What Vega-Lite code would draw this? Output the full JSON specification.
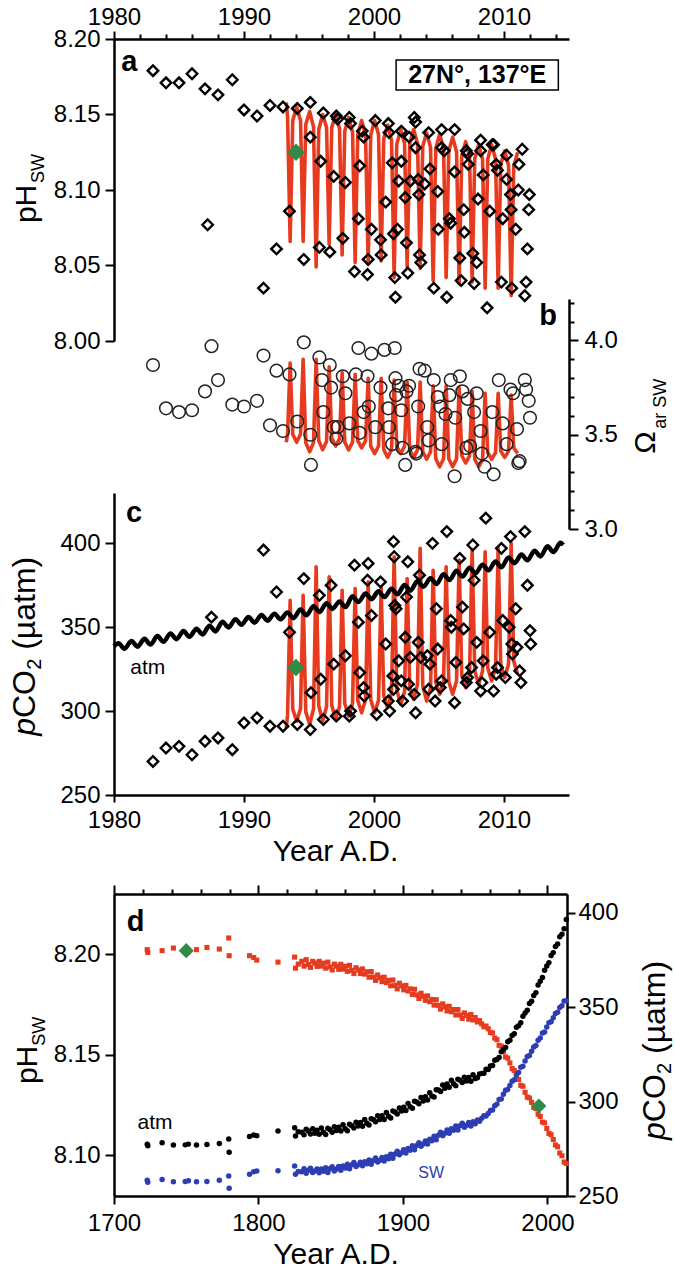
{
"$schema": "https://vega.github.io/schema/vega-lite/v6.json",
"padding": {"left": 9, "top": 5, "right": 0, "bottom": 0},
"spacing": 18,
"config": {
  "view": {"stroke": null},
  "font": "Liberation Sans",
  "axis": {"domainColor": "black", "domainWidth": 2.5, "tickColor": "black", "tickWidth": 2, "labelColor": "black", "labelFontSize": 24, "labelFont": "Liberation Sans", "labelFlush": false, "labelOverlap": false, "grid": false, "titleColor": "black", "titleFontWeight": "normal", "titleFontSize": 30, "titleFont": "Liberation Sans"}
},
"datasets": {
"sea": [
{"t":1993.25,"ph":8.158,"om":3.46,"pc":290},
{"t":1993.35,"ph":8.1488,"om":3.502,"pc":297.6},{"t":1993.55,"ph":8.066,"om":3.88,"pc":366},{"t":1993.75,"ph":8.1461,"om":3.502,"pc":301.2},{"t":1994.05,"ph":8.155,"om":3.46,"pc":294},
{"t":1994.35,"ph":8.1461,"om":3.504,"pc":301.5},{"t":1994.55,"ph":8.066,"om":3.90,"pc":369},{"t":1994.75,"ph":8.1434,"om":3.459,"pc":299.7},{"t":1995.05,"ph":8.152,"om":3.41,"pc":292},
{"t":1995.35,"ph":8.1417,"om":3.459,"pc":301.4},{"t":1995.55,"ph":8.049,"om":3.90,"pc":386},{"t":1995.75,"ph":8.1399,"om":3.468,"pc":303.2},{"t":1996.05,"ph":8.150,"om":3.42,"pc":294},
{"t":1996.35,"ph":8.1414,"om":3.464,"pc":302.6},{"t":1996.55,"ph":8.064,"om":3.86,"pc":380},{"t":1996.75,"ph":8.1414,"om":3.482,"pc":303.5},{"t":1997.05,"ph":8.150,"om":3.44,"pc":295},
{"t":1997.35,"ph":8.1407,"om":3.479,"pc":302.7},{"t":1997.55,"ph":8.057,"om":3.83,"pc":372},{"t":1997.75,"ph":8.1389,"om":3.461,"pc":304.5},{"t":1998.05,"ph":8.148,"om":3.42,"pc":297},
{"t":1998.35,"ph":8.1384,"om":3.46,"pc":304.6},{"t":1998.55,"ph":8.052,"om":3.82,"pc":373},{"t":1998.75,"ph":8.1366,"om":3.469,"pc":306.4},{"t":1999.05,"ph":8.146,"om":3.43,"pc":299},
{"t":1999.35,"ph":8.1365,"om":3.467,"pc":306.8},{"t":1999.55,"ph":8.051,"om":3.80,"pc":377},{"t":1999.75,"ph":8.1365,"om":3.44,"pc":306.8},{"t":2000.05,"ph":8.146,"om":3.40,"pc":299},
{"t":2000.35,"ph":8.1367,"om":3.44,"pc":306.5},{"t":2000.55,"ph":8.053,"om":3.80,"pc":374},{"t":2000.75,"ph":8.134,"om":3.422,"pc":309.2},{"t":2001.05,"ph":8.143,"om":3.38,"pc":302},
{"t":2001.35,"ph":8.1329,"om":3.421,"pc":311},{"t":2001.55,"ph":8.042,"om":3.79,"pc":392},{"t":2001.75,"ph":8.1302,"om":3.439,"pc":312.8},{"t":2002.05,"ph":8.140,"om":3.40,"pc":304},
{"t":2002.35,"ph":8.1309,"om":3.438,"pc":311.5},{"t":2002.55,"ph":8.049,"om":3.78,"pc":379},{"t":2002.75,"ph":8.1309,"om":3.42,"pc":314.2},{"t":2003.05,"ph":8.140,"om":3.38,"pc":307},
{"t":2003.35,"ph":8.1308,"om":3.42,"pc":316},{"t":2003.55,"ph":8.048,"om":3.78,"pc":397},{"t":2003.75,"ph":8.129,"om":3.411,"pc":315.1},{"t":2004.05,"ph":8.138,"om":3.37,"pc":306},
{"t":2004.35,"ph":8.1282,"om":3.409,"pc":313.8},{"t":2004.55,"ph":8.040,"om":3.76,"pc":384},{"t":2004.75,"ph":8.1273,"om":3.373,"pc":317.4},{"t":2005.05,"ph":8.137,"om":3.33,"pc":310},
{"t":2005.35,"ph":8.1275,"om":3.373,"pc":317.6},{"t":2005.55,"ph":8.042,"om":3.76,"pc":386},{"t":2005.75,"ph":8.1257,"om":3.373,"pc":317.6},{"t":2006.05,"ph":8.135,"om":3.33,"pc":310},
{"t":2006.35,"ph":8.1253,"om":3.372,"pc":318},{"t":2006.55,"ph":8.038,"om":3.75,"pc":390},{"t":2006.75,"ph":8.1226,"om":3.39,"pc":321.6},{"t":2007.05,"ph":8.132,"om":3.35,"pc":314},
{"t":2007.35,"ph":8.1227,"om":3.388,"pc":322.2},{"t":2007.55,"ph":8.039,"om":3.73,"pc":396},{"t":2007.75,"ph":8.1209,"om":3.37,"pc":324},{"t":2008.05,"ph":8.130,"om":3.33,"pc":316},
{"t":2008.35,"ph":8.1205,"om":3.369,"pc":323.9},{"t":2008.55,"ph":8.035,"om":3.72,"pc":395},{"t":2008.75,"ph":8.1205,"om":3.405,"pc":325.7},{"t":2009.05,"ph":8.130,"om":3.37,"pc":318},
{"t":2009.35,"ph":8.1205,"om":3.405,"pc":325.9},{"t":2009.55,"ph":8.035,"om":3.72,"pc":397},{"t":2009.75,"ph":8.1169,"om":3.414,"pc":327.7},{"t":2010.05,"ph":8.126,"om":3.38,"pc":320},
{"t":2010.35,"ph":8.1164,"om":3.413,"pc":328},{"t":2010.55,"ph":8.030,"om":3.71,"pc":400},{"t":2010.75,"ph":8.1155,"om":3.431,"pc":329.8},{"t":2011.05,"ph":8.125,"om":3.40,"pc":322}
],
"atm": [
{"t":1980.0,"v":338.6},
{"t":1980.35,"v":340.5},{"t":1980.8,"v":337.1},{"t":1981.35,"v":341.8},{"t":1981.8,"v":338.4},
{"t":1982.35,"v":343.1},{"t":1982.8,"v":339.7},{"t":1983.35,"v":344.7},{"t":1983.8,"v":341.3},
{"t":1984.35,"v":346.3},{"t":1984.8,"v":342.9},{"t":1985.35,"v":347.7},{"t":1985.8,"v":344.3},
{"t":1986.35,"v":349.1},{"t":1986.8,"v":345.7},{"t":1987.35,"v":350.9},{"t":1987.8,"v":347.5},
{"t":1988.35,"v":353.3},{"t":1988.8,"v":349.9},{"t":1989.35,"v":354.8},{"t":1989.8,"v":351.4},
{"t":1990.35,"v":356.1},{"t":1990.8,"v":352.7},{"t":1991.35,"v":357.3},{"t":1991.8,"v":353.9},
{"t":1992.35,"v":358.1},{"t":1992.8,"v":354.7},{"t":1993.35,"v":358.8},{"t":1993.8,"v":355.4},
{"t":1994.35,"v":360.5},{"t":1994.8,"v":357.1},{"t":1995.35,"v":362.5},{"t":1995.8,"v":359.1},
{"t":1996.35,"v":364.3},{"t":1996.8,"v":360.9},{"t":1997.35,"v":365.4},{"t":1997.8,"v":362.0},
{"t":1998.35,"v":368.4},{"t":1998.8,"v":365.0},{"t":1999.35,"v":370.1},{"t":1999.8,"v":366.7},
{"t":2000.35,"v":371.4},{"t":2000.8,"v":368.0},{"t":2001.35,"v":373.0},{"t":2001.8,"v":369.6},
{"t":2002.35,"v":375.2},{"t":2002.8,"v":371.8},{"t":2003.35,"v":377.5},{"t":2003.8,"v":374.1},
{"t":2004.35,"v":379.2},{"t":2004.8,"v":375.8},{"t":2005.35,"v":381.5},{"t":2005.8,"v":378.1},
{"t":2006.35,"v":383.6},{"t":2006.8,"v":380.2},{"t":2007.35,"v":385.5},{"t":2007.8,"v":382.1},
{"t":2008.35,"v":387.3},{"t":2008.8,"v":383.9},{"t":2009.35,"v":389.1},{"t":2009.8,"v":385.7},
{"t":2010.35,"v":391.6},{"t":2010.8,"v":388.2},{"t":2011.35,"v":393.3},{"t":2011.8,"v":389.9},
{"t":2012.35,"v":395.6},{"t":2012.8,"v":392.2},{"t":2013.35,"v":398.2},{"t":2013.8,"v":394.8},
{"t":2014.35,"v":400.3},{"t":2014.55,"v":399.0}
],
"pha": [
{"t":1983.0,"v":8.179},{"t":1984.0,"v":8.171},{"t":1985.0,"v":8.171},{"t":1986.0,"v":8.177},{"t":1987.0,"v":8.167},
{"t":1988.0,"v":8.163},{"t":1989.1,"v":8.173},{"t":1990.0,"v":8.153},{"t":1991.0,"v":8.149},{"t":1992.0,"v":8.156},
{"t":1993.0,"v":8.155},{"t":1994.1,"v":8.154},{"t":1995.1,"v":8.158},{"t":1996.1,"v":8.151},{"t":1997.1,"v":8.149},
{"t":1997.2,"v":8.147},{"t":1998.1,"v":8.148},{"t":1998.2,"v":8.144},{"t":1999.1,"v":8.139},{"t":1999.2,"v":8.135},
{"t":2000.1,"v":8.146},{"t":2001.1,"v":8.144},{"t":2001.15,"v":8.138},{"t":2002.1,"v":8.139},{"t":2003.1,"v":8.148},
{"t":2003.2,"v":8.145},{"t":2004.2,"v":8.138},{"t":2005.2,"v":8.140},{"t":2006.2,"v":8.140},{"t":2007.1,"v":8.126},
{"t":2008.2,"v":8.133},{"t":2009.2,"v":8.130},{"t":2010.2,"v":8.123},{"t":2011.4,"v":8.127},
{"t":1987.2,"v":8.077},{"t":1991.5,"v":8.035},{"t":1992.5,"v":8.061},{"t":1993.5,"v":8.086},{"t":1994.6,"v":8.054},
{"t":1995.1,"v":8.135},{"t":1995.9,"v":8.119},{"t":1995.8,"v":8.062},{"t":1996.6,"v":8.059},{"t":1996.9,"v":8.109},
{"t":1997.6,"v":8.068},{"t":1997.8,"v":8.105},{"t":1998.5,"v":8.046},{"t":1998.9,"v":8.116},{"t":1998.8,"v":8.081},
{"t":1999.5,"v":8.044},{"t":1999.55,"v":8.054},{"t":1999.8,"v":8.074},{"t":2000.5,"v":8.067},{"t":2000.55,"v":8.057},
{"t":2000.9,"v":8.092},{"t":2001.4,"v":8.118},{"t":2001.5,"v":8.071},{"t":2001.6,"v":8.042},{"t":2001.65,"v":8.029},
{"t":2001.8,"v":8.074},{"t":2001.9,"v":8.106},{"t":2002.1,"v":8.119},{"t":2002.4,"v":8.095},{"t":2002.5,"v":8.065},
{"t":2002.6,"v":8.045},{"t":2002.7,"v":8.135},{"t":2002.8,"v":8.106},{"t":2003.2,"v":8.128},{"t":2003.4,"v":8.107},
{"t":2003.45,"v":8.097},{"t":2003.5,"v":8.057},{"t":2003.6,"v":8.052},{"t":2003.9,"v":8.104},{"t":2004.3,"v":8.114},
{"t":2004.6,"v":8.035},{"t":2004.9,"v":8.099},{"t":2004.95,"v":8.074},{"t":2005.2,"v":8.128},{"t":2005.4,"v":8.126},
{"t":2005.6,"v":8.029},{"t":2005.8,"v":8.081},{"t":2005.9,"v":8.078},{"t":2006.2,"v":8.112},{"t":2006.6,"v":8.055},
{"t":2006.7,"v":8.040},{"t":2006.9,"v":8.087},{"t":2006.95,"v":8.072},{"t":2007.2,"v":8.124},{"t":2007.25,"v":8.117},
{"t":2007.6,"v":8.058},{"t":2007.7,"v":8.038},{"t":2007.9,"v":8.052},{"t":2008.0,"v":8.094},{"t":2008.2,"v":8.126},
{"t":2008.4,"v":8.110},{"t":2008.7,"v":8.022},{"t":2008.9,"v":8.086},{"t":2009.1,"v":8.130},{"t":2009.4,"v":8.117},
{"t":2009.5,"v":8.113},{"t":2009.8,"v":8.039},{"t":2009.9,"v":8.081},{"t":2010.2,"v":8.107},{"t":2010.5,"v":8.097},
{"t":2010.55,"v":8.087},{"t":2010.6,"v":8.035},{"t":2010.9,"v":8.074},{"t":2011.1,"v":8.100},{"t":2011.15,"v":8.117},
{"t":2011.6,"v":8.030},{"t":2011.7,"v":8.039},{"t":2011.8,"v":8.061},{"t":2011.9,"v":8.087},{"t":2011.95,"v":8.097}
],
"omb": [
{"t":1983.0,"v":3.87},{"t":1984.0,"v":3.64},{"t":1985.0,"v":3.62},{"t":1986.0,"v":3.63},{"t":1987.0,"v":3.73},
{"t":1987.5,"v":3.97},{"t":1988.0,"v":3.79},{"t":1989.1,"v":3.66},{"t":1990.0,"v":3.65},{"t":1991.0,"v":3.68},
{"t":1991.5,"v":3.92},{"t":1992.0,"v":3.55},{"t":1992.5,"v":3.84},{"t":1993.0,"v":3.52},{"t":1993.5,"v":3.82},
{"t":1994.1,"v":3.57},{"t":1994.6,"v":3.99},{"t":1995.1,"v":3.50},{"t":1995.15,"v":3.34},{"t":1995.8,"v":3.91},
{"t":1996.1,"v":3.62},{"t":1996.0,"v":3.79},{"t":1996.6,"v":3.87},{"t":1996.7,"v":3.75},{"t":1996.9,"v":3.54},
{"t":1997.1,"v":3.48},{"t":1997.2,"v":3.54},{"t":1997.6,"v":3.81},{"t":1997.8,"v":3.72},{"t":1998.1,"v":3.56},
{"t":1998.6,"v":3.82},{"t":1998.8,"v":3.96},{"t":1998.9,"v":3.51},{"t":1999.2,"v":3.62},{"t":1999.5,"v":3.81},
{"t":1999.6,"v":3.65},{"t":1999.8,"v":3.93},{"t":2000.1,"v":3.54},{"t":2000.5,"v":3.75},{"t":2000.8,"v":3.95},
{"t":2001.1,"v":3.64},{"t":2001.15,"v":3.54},{"t":2001.4,"v":3.45},{"t":2001.6,"v":3.96},{"t":2001.65,"v":3.80},
{"t":2001.7,"v":3.71},{"t":2001.9,"v":3.76},{"t":2002.1,"v":3.63},{"t":2002.2,"v":3.43},{"t":2002.4,"v":3.34},
{"t":2002.5,"v":3.73},{"t":2002.7,"v":3.76},{"t":2003.2,"v":3.41},{"t":2003.25,"v":3.40},{"t":2003.4,"v":3.65},
{"t":2003.5,"v":3.85},{"t":2003.9,"v":3.84},{"t":2004.1,"v":3.54},{"t":2004.2,"v":3.47},{"t":2004.6,"v":3.79},
{"t":2004.9,"v":3.70},{"t":2005.1,"v":3.65},{"t":2005.2,"v":3.45},{"t":2005.5,"v":3.61},{"t":2005.8,"v":3.71},
{"t":2005.9,"v":3.79},{"t":2006.2,"v":3.28},{"t":2006.25,"v":3.59},{"t":2006.6,"v":3.81},{"t":2006.8,"v":3.73},
{"t":2007.1,"v":3.43},{"t":2007.2,"v":3.69},{"t":2007.4,"v":3.44},{"t":2007.7,"v":3.62},{"t":2007.9,"v":3.72},
{"t":2008.2,"v":3.52},{"t":2008.3,"v":3.40},{"t":2008.5,"v":3.33},{"t":2009.1,"v":3.62},{"t":2009.2,"v":3.29},
{"t":2009.6,"v":3.79},{"t":2009.9,"v":3.56},{"t":2010.2,"v":3.45},{"t":2010.5,"v":3.74},{"t":2010.7,"v":3.72},
{"t":2011.0,"v":3.53},{"t":2011.1,"v":3.35},{"t":2011.2,"v":3.36},{"t":2011.6,"v":3.79},{"t":2011.7,"v":3.74},
{"t":2011.9,"v":3.68},{"t":2012.0,"v":3.59}
],
"pcc": [
{"t":1983.0,"v":270},{"t":1984.0,"v":278},{"t":1985.0,"v":279},{"t":1986.0,"v":274},{"t":1987.0,"v":282},
{"t":1987.5,"v":356},{"t":1988.0,"v":284},{"t":1989.1,"v":277},{"t":1990.0,"v":293},{"t":1991.0,"v":296},
{"t":1991.5,"v":396},{"t":1992.0,"v":291},{"t":1992.5,"v":371},{"t":1993.0,"v":291},{"t":1993.5,"v":347},
{"t":1994.1,"v":292},{"t":1994.6,"v":379},{"t":1995.1,"v":289},{"t":1995.15,"v":311},{"t":1995.8,"v":369},
{"t":1995.9,"v":319},{"t":1996.1,"v":295},{"t":1996.7,"v":375},{"t":1996.9,"v":328},{"t":1997.1,"v":297},
{"t":1997.8,"v":333},{"t":1998.1,"v":297},{"t":1998.2,"v":300},{"t":1998.5,"v":387},{"t":1998.8,"v":353},
{"t":1998.9,"v":323},{"t":1999.2,"v":314},{"t":1999.25,"v":309},{"t":1999.5,"v":378},{"t":1999.55,"v":388},
{"t":1999.8,"v":357},{"t":2000.2,"v":298},{"t":2000.5,"v":377},{"t":2000.9,"v":340},{"t":2001.1,"v":306},
{"t":2001.2,"v":300},{"t":2001.5,"v":401},{"t":2001.55,"v":392},{"t":2001.6,"v":363},{"t":2001.45,"v":321},
{"t":2001.5,"v":313},{"t":2001.7,"v":361},{"t":2001.9,"v":330},{"t":2002.1,"v":318},{"t":2002.2,"v":306},
{"t":2002.4,"v":344},{"t":2002.5,"v":368},{"t":2002.6,"v":389},{"t":2002.65,"v":316},{"t":2002.8,"v":332},
{"t":2003.1,"v":310},{"t":2003.2,"v":299},{"t":2003.4,"v":341},{"t":2003.5,"v":381},{"t":2003.6,"v":332},
{"t":2004.1,"v":333},{"t":2004.2,"v":313},{"t":2004.3,"v":328},{"t":2004.5,"v":400},{"t":2004.7,"v":306},
{"t":2004.8,"v":361},{"t":2004.9,"v":337},{"t":2005.1,"v":314},{"t":2005.2,"v":318},{"t":2005.6,"v":407},
{"t":2005.9,"v":354},{"t":2005.95,"v":350},{"t":2006.2,"v":305},{"t":2006.3,"v":329},{"t":2006.6,"v":391},
{"t":2006.8,"v":362},{"t":2006.9,"v":349},{"t":2007.1,"v":317},{"t":2007.2,"v":320},{"t":2007.5,"v":326},
{"t":2007.6,"v":399},{"t":2007.7,"v":378},{"t":2007.9,"v":341},{"t":2008.2,"v":312},{"t":2008.3,"v":317},
{"t":2008.4,"v":330},{"t":2008.6,"v":415},{"t":2008.9,"v":347},{"t":2009.2,"v":312},{"t":2009.4,"v":322},
{"t":2009.5,"v":326},{"t":2009.8,"v":397},{"t":2009.9,"v":354},{"t":2010.1,"v":320},{"t":2010.4,"v":350},
{"t":2010.5,"v":404},{"t":2010.6,"v":340},{"t":2010.65,"v":334},{"t":2010.9,"v":361},{"t":2011.0,"v":338},
{"t":2011.2,"v":324},{"t":2011.3,"v":317},{"t":2011.6,"v":407},{"t":2011.8,"v":375},{"t":2012.0,"v":348},
{"t":2012.05,"v":340}
],
"hist": [
{"t":1723.0,"p":8.2022,"a":277.4,"w":258.3},{"t":1723.4,"p":8.2008,"a":276.6,"w":257.3},
{"t":1733.3,"p":8.2017,"a":278.2,"w":258.8},{"t":1741.1,"p":8.2030,"a":277.0,"w":257.6},
{"t":1749.3,"p":8.2017,"a":277.1,"w":257.7},{"t":1751.5,"p":8.2012,"a":277.5,"w":258.1},
{"t":1757.1,"p":8.2022,"a":277.0,"w":257.6},{"t":1764.3,"p":8.2033,"a":277.3,"w":257.7},
{"t":1772.9,"p":8.2025,"a":277.8,"w":258.3},{"t":1779.4,"p":8.2080,"a":280.2,"w":260.6},
{"t":1779.7,"p":8.1992,"a":273.2,"w":254.1},{"t":1793.8,"p":8.1992,"a":281.5,"w":261.5},
{"t":1796.7,"p":8.1983,"a":282.3,"w":262.9},{"t":1798.8,"p":8.1970,"a":282.0,"w":263.3},
{"t":1813.5,"p":8.1960,"a":284.4,"w":263.4},{"t":1825.0,"p":8.1985,"a":286.2,"w":265.9},
{"t":1825.6,"p":8.1930,"a":281.8,"w":261.5},{"t":1827.5,"p":8.1950,"a":284.0,"w":263.0},
{"t":1830,"p":8.1964,"a":283.8,"w":262.8},{"t":1831.5,"p":8.1940,"a":282.4,"w":264.5},
{"t":1833,"p":8.1972,"a":285.4,"w":262.0},{"t":1834.5,"p":8.1948,"a":284.4,"w":263.7},
{"t":1836,"p":8.1934,"a":282.9,"w":264.7},{"t":1837.5,"p":8.1964,"a":285.6,"w":262.4},
{"t":1839,"p":8.1955,"a":283.3,"w":263.2},{"t":1840.5,"p":8.1939,"a":284.9,"w":264.3},
{"t":1842,"p":8.1964,"a":282.7,"w":262.3},{"t":1843.5,"p":8.1940,"a":286.0,"w":264.3},
{"t":1845,"p":8.1955,"a":283.8,"w":263.1},{"t":1846.5,"p":8.1930,"a":282.6,"w":265.0},
{"t":1848,"p":8.1960,"a":285.9,"w":262.5},{"t":1849.5,"p":8.1936,"a":285.1,"w":264.4},
{"t":1851,"p":8.1921,"a":283.8,"w":265.5},{"t":1852.5,"p":8.1950,"a":286.7,"w":263.3},
{"t":1854,"p":8.1940,"a":284.7,"w":264.3},{"t":1855.5,"p":8.1924,"a":286.5,"w":265.6},
{"t":1857,"p":8.1949,"a":284.4,"w":263.7},{"t":1858.5,"p":8.1925,"a":287.8,"w":265.9},
{"t":1860,"p":8.1939,"a":285.7,"w":264.8},{"t":1861.5,"p":8.1914,"a":284.6,"w":266.8},
{"t":1863,"p":8.1944,"a":288.0,"w":264.5},{"t":1864.5,"p":8.1919,"a":287.3,"w":266.5},
{"t":1866,"p":8.1903,"a":286.1,"w":267.8},{"t":1867.5,"p":8.1932,"a":289.1,"w":265.6},
{"t":1869,"p":8.1921,"a":287.1,"w":266.5},{"t":1870.5,"p":8.1903,"a":289.0,"w":267.9},
{"t":1872,"p":8.1926,"a":287.0,"w":266.0},{"t":1873.5,"p":8.1900,"a":290.5,"w":268.2},
{"t":1875,"p":8.1912,"a":288.5,"w":267.1},{"t":1876.5,"p":8.1885,"a":287.6,"w":269.1},
{"t":1878,"p":8.1913,"a":291.0,"w":266.8},{"t":1879.5,"p":8.1886,"a":290.5,"w":268.8},
{"t":1881,"p":8.1869,"a":289.4,"w":270.1},{"t":1882.5,"p":8.1896,"a":292.5,"w":268.0},
{"t":1884,"p":8.1882,"a":290.5,"w":269.0},{"t":1885.5,"p":8.1863,"a":292.5,"w":270.4},
{"t":1887,"p":8.1885,"a":290.6,"w":268.6},{"t":1888.5,"p":8.1858,"a":294.2,"w":270.8},
{"t":1890,"p":8.1869,"a":292.3,"w":269.8},{"t":1891.5,"p":8.1842,"a":291.4,"w":272.1},
{"t":1893,"p":8.1871,"a":295.0,"w":270.0},{"t":1894.5,"p":8.1844,"a":294.5,"w":272.3},
{"t":1896,"p":8.1827,"a":293.5,"w":273.7},{"t":1897.5,"p":8.1855,"a":296.7,"w":271.8},
{"t":1899,"p":8.1842,"a":295.0,"w":272.9},{"t":1900.5,"p":8.1822,"a":297.1,"w":274.5},
{"t":1902,"p":8.1844,"a":295.3,"w":272.8},{"t":1903.5,"p":8.1816,"a":299.1,"w":275.2},
{"t":1905,"p":8.1827,"a":297.3,"w":274.3},{"t":1906.5,"p":8.1799,"a":296.5,"w":276.6},
{"t":1908,"p":8.1825,"a":300.2,"w":274.5},{"t":1909.5,"p":8.1797,"a":299.8,"w":276.8},
{"t":1911,"p":8.1779,"a":298.9,"w":278.2},{"t":1912.5,"p":8.1805,"a":302.2,"w":276.4},
{"t":1914,"p":8.1790,"a":300.4,"w":277.6},{"t":1915.5,"p":8.1770,"a":302.6,"w":279.2},
{"t":1917,"p":8.1792,"a":300.9,"w":277.6},{"t":1918.5,"p":8.1763,"a":304.7,"w":280.1},
{"t":1920,"p":8.1774,"a":303.0,"w":279.3},{"t":1921.5,"p":8.1746,"a":302.5,"w":281.7},
{"t":1923,"p":8.1773,"a":306.3,"w":279.8},{"t":1924.5,"p":8.1745,"a":306.2,"w":282.2},
{"t":1926,"p":8.1726,"a":305.4,"w":283.8},{"t":1927.5,"p":8.1752,"a":308.8,"w":282.0},
{"t":1929,"p":8.1738,"a":307.1,"w":283.3},{"t":1930.5,"p":8.1717,"a":309.4,"w":285.0},
{"t":1932,"p":8.1740,"a":307.6,"w":283.3},{"t":1933.5,"p":8.1713,"a":311.3,"w":285.7},
{"t":1935,"p":8.1724,"a":309.5,"w":284.8},{"t":1936.5,"p":8.1697,"a":308.5,"w":287.1},
{"t":1938,"p":8.1724,"a":311.9,"w":285.0},{"t":1939.5,"p":8.1697,"a":311.3,"w":287.3},
{"t":1941,"p":8.1680,"a":310.1,"w":288.6},{"t":1942.5,"p":8.1707,"a":313.0,"w":286.5},
{"t":1944,"p":8.1694,"a":310.9,"w":287.5},{"t":1945.5,"p":8.1676,"a":312.8,"w":288.9},
{"t":1947,"p":8.1699,"a":310.8,"w":287.1},{"t":1948.5,"p":8.1672,"a":314.3,"w":289.3},
{"t":1950,"p":8.1684,"a":312.3,"w":288.3},{"t":1951.5,"p":8.1662,"a":312.7,"w":290.3},
{"t":1953,"p":8.1669,"a":314.7,"w":289.6},{"t":1954.5,"p":8.1652,"a":315.0,"w":291.2},
{"t":1956,"p":8.1638,"a":315.1,"w":292.6},{"t":1957.5,"p":8.1642,"a":317.2,"w":292.4},
{"t":1959,"p":8.1628,"a":317.1,"w":293.7},{"t":1960.5,"p":8.1610,"a":318.9,"w":295.3},
{"t":1962,"p":8.1607,"a":319.2,"w":295.6},{"t":1963.5,"p":8.1582,"a":322.0,"w":297.9},
{"t":1965,"p":8.1574,"a":322.3,"w":298.7},{"t":1966.5,"p":8.1546,"a":323.4,"w":301.2},
{"t":1968,"p":8.1542,"a":326.4,"w":301.4},{"t":1969.5,"p":8.1514,"a":327.7,"w":303.9},
{"t":1971,"p":8.1488,"a":328.7,"w":306.0},{"t":1972.5,"p":8.1482,"a":331.7,"w":306.5},
{"t":1974,"p":8.1458,"a":332.5,"w":308.6},{"t":1975.5,"p":8.1430,"a":335.1,"w":310.8},
{"t":1977,"p":8.1421,"a":336.0,"w":311.6},{"t":1978.5,"p":8.1390,"a":339.4,"w":314.3},
{"t":1980,"p":8.1376,"a":340.3,"w":315.5},{"t":1981.5,"p":8.1347,"a":341.8,"w":318.3},
{"t":1983,"p":8.1342,"a":345.3,"w":318.8},{"t":1984.5,"p":8.1312,"a":347.0,"w":321.6},
{"t":1986,"p":8.1288,"a":348.5,"w":323.9},{"t":1987.5,"p":8.1284,"a":352.0,"w":324.5},
{"t":1989,"p":8.1262,"a":353.2,"w":326.7},{"t":1990.5,"p":8.1237,"a":356.3,"w":329.0},
{"t":1992,"p":8.1231,"a":357.8,"w":329.8},{"t":1993.5,"p":8.1203,"a":361.8,"w":332.5},
{"t":1995,"p":8.1192,"a":363.8,"w":333.7},{"t":1996.5,"p":8.1164,"a":365.8,"w":336.4},
{"t":1998,"p":8.1160,"a":369.7,"w":336.9},{"t":1999.5,"p":8.1132,"a":371.9,"w":339.6},
{"t":2001,"p":8.1107,"a":373.7,"w":341.9},{"t":2002.5,"p":8.1101,"a":377.5,"w":342.4},
{"t":2004,"p":8.1077,"a":379.0,"w":344.5},{"t":2005.5,"p":8.1050,"a":382.2,"w":346.7},
{"t":2007,"p":8.1041,"a":383.6,"w":347.4},{"t":2008.5,"p":8.1010,"a":387.4,"w":349.9},
{"t":2010,"p":8.0996,"a":388.8,"w":350.9},{"t":2011.5,"p":8.0965,"a":391.7,"w":353.3},
{"t":2013,"p":8.0958,"a":396.6,"w":353.5}
]
},
"vconcat": [
{
 "width": 455, "height": 756,
 "resolve": {"scale": {"y": "independent"}, "axis": {"x": "independent", "y": "independent"}},
 "layer": [
  {"data": {"name": "sea"}, "mark": {"type": "line", "color": "#e63b1f", "strokeWidth": 3.6, "strokeJoin": "round"},
   "encoding": {
    "x": {"field": "t", "type": "quantitative", "scale": {"domain": [1980, 2015], "nice": false, "zero": false},
      "axis": {"orient": "top", "format": "d", "values": [1980,1982,1984,1986,1988,1990,1992,1994,1996,1998,2000,2002,2004,2006,2008,2010,2012,2014],
        "labelExpr": "datum.value % 10 === 0 ? datum.label : ''",
        "tickSize": {"condition": {"test": "datum.value % 10 === 0", "value": 8}, "value": 5},
        "labelPadding": 2, "title": null}},
    "y": {"field": "ph", "type": "quantitative", "scale": {"domain": [8.0, 8.2], "range": [302, 0], "nice": false, "zero": false},
      "axis": {"orient": "left", "values": [8.0, 8.05, 8.1, 8.15, 8.2], "format": ".2f", "tickSize": 9, "labelPadding": 5, "title": null}}
   }},
  {"data": {"name": "pha"}, "mark": {"type": "point", "shape": "diamond", "filled": false, "stroke": "black", "strokeWidth": 2.4, "size": 110, "opacity": 1},
   "encoding": {
    "x": {"field": "t", "type": "quantitative", "scale": {"domain": [1980, 2015], "nice": false, "zero": false}, "axis": null},
    "y": {"field": "v", "type": "quantitative", "scale": {"domain": [8.0, 8.2], "range": [302, 0], "nice": false, "zero": false}, "axis": null}
   }},
  {"data": {"values": [{"t": 1994.0, "v": 8.125}]}, "mark": {"type": "point", "shape": "diamond", "filled": true, "color": "#2f8c45", "size": 300, "opacity": 1},
   "encoding": {
    "x": {"field": "t", "type": "quantitative", "scale": {"domain": [1980, 2015], "nice": false, "zero": false}, "axis": null},
    "y": {"field": "v", "type": "quantitative", "scale": {"domain": [8.0, 8.2], "range": [302, 0], "nice": false, "zero": false}, "axis": null}
   }},
  {"data": {"values": [{"t": 2001.7, "t2": 2014.18, "v": 8.1861, "v2": 8.1662}]}, "mark": {"type": "rect", "fill": "white", "stroke": "black", "strokeWidth": 1.5},
   "encoding": {
    "x": {"field": "t", "type": "quantitative", "scale": {"domain": [1980, 2015], "nice": false, "zero": false}, "axis": null},
    "x2": {"field": "t2"},
    "y": {"field": "v", "type": "quantitative", "scale": {"domain": [8.0, 8.2], "range": [302, 0], "nice": false, "zero": false}, "axis": null},
    "y2": {"field": "v2"}
   }},
  {"data": {"values": [{"t": 2007.94, "v": 8.1762, "s": "27N°, 137°E"}]}, "mark": {"type": "text", "fontWeight": "bold", "fontSize": 25, "align": "center", "baseline": "middle", "color": "black"},
   "encoding": {
    "x": {"field": "t", "type": "quantitative", "scale": {"domain": [1980, 2015], "nice": false, "zero": false}, "axis": null},
    "y": {"field": "v", "type": "quantitative", "scale": {"domain": [8.0, 8.2], "range": [302, 0], "nice": false, "zero": false}, "axis": null},
    "text": {"field": "s"}
   }},
  {"data": {"values": [{"t": 1980.55, "v": 8.1788, "s": "a"}]}, "mark": {"type": "text", "fontWeight": "bold", "fontSize": 29, "align": "left", "baseline": "alphabetic", "color": "black"},
   "encoding": {
    "x": {"field": "t", "type": "quantitative", "scale": {"domain": [1980, 2015], "nice": false, "zero": false}, "axis": null},
    "y": {"field": "v", "type": "quantitative", "scale": {"domain": [8.0, 8.2], "range": [302, 0], "nice": false, "zero": false}, "axis": null},
    "text": {"field": "s"}
   }},
  {"data": {"values": [{"t": 1973.98, "v": 8.0781, "s": "pH"}]}, "mark": {"type": "text", "fontSize": 30, "angle": 270, "align": "left", "baseline": "alphabetic", "color": "black"},
   "encoding": {
    "x": {"field": "t", "type": "quantitative", "scale": {"domain": [1980, 2015], "nice": false, "zero": false}, "axis": null},
    "y": {"field": "v", "type": "quantitative", "scale": {"domain": [8.0, 8.2], "range": [302, 0], "nice": false, "zero": false}, "axis": null},
    "text": {"field": "s"}
   }},
  {"data": {"values": [{"t": 1974.63, "v": 8.1047, "s": "SW"}]}, "mark": {"type": "text", "fontSize": 18, "angle": 270, "align": "left", "baseline": "alphabetic", "color": "black"},
   "encoding": {
    "x": {"field": "t", "type": "quantitative", "scale": {"domain": [1980, 2015], "nice": false, "zero": false}, "axis": null},
    "y": {"field": "v", "type": "quantitative", "scale": {"domain": [8.0, 8.2], "range": [302, 0], "nice": false, "zero": false}, "axis": null},
    "text": {"field": "s"}
   }},
  {"data": {"name": "sea"}, "mark": {"type": "line", "color": "#e63b1f", "strokeWidth": 3.6, "strokeJoin": "round"},
   "encoding": {
    "x": {"field": "t", "type": "quantitative", "scale": {"domain": [1980, 2015], "nice": false, "zero": false}, "axis": null},
    "y": {"field": "om", "type": "quantitative", "scale": {"domain": [3.0, 4.22], "range": [490, 260], "nice": false, "zero": false},
      "axis": {"orient": "right", "values": [3.0, 3.1, 3.2, 3.3, 3.4, 3.5, 3.6, 3.7, 3.8, 3.9, 4.0, 4.1, 4.2], "format": ".1f",
        "labelExpr": "(datum.label == '3.0' || datum.label == '3.5' || datum.label == '4.0') ? datum.label : ''",
        "tickSize": {"condition": {"test": "datum.value == 3 || datum.value == 3.5 || datum.value == 4", "value": 9}, "value": 5},
        "labelPadding": 6, "title": null}}
   }},
  {"data": {"name": "omb"}, "mark": {"type": "point", "shape": "circle", "filled": false, "stroke": "#222222", "strokeWidth": 1.5, "size": 160, "opacity": 1},
   "encoding": {
    "x": {"field": "t", "type": "quantitative", "scale": {"domain": [1980, 2015], "nice": false, "zero": false}, "axis": null},
    "y": {"field": "v", "type": "quantitative", "scale": {"domain": [3.0, 4.22], "range": [490, 260], "nice": false, "zero": false}, "axis": null}
   }},
  {"data": {"values": [{"t": 2012.71, "v": 4.0798, "s": "b"}]}, "mark": {"type": "text", "fontWeight": "bold", "fontSize": 29, "align": "left", "baseline": "alphabetic", "color": "black"},
   "encoding": {
    "x": {"field": "t", "type": "quantitative", "scale": {"domain": [1980, 2015], "nice": false, "zero": false}, "axis": null},
    "y": {"field": "v", "type": "quantitative", "scale": {"domain": [3.0, 4.22], "range": [490, 260], "nice": false, "zero": false}, "axis": null},
    "text": {"field": "s"}
   }},
  {"data": {"values": [{"t": 2021.63, "v": 3.399, "s": "Ω"}]}, "mark": {"type": "text", "fontSize": 30, "angle": 270, "align": "left", "baseline": "alphabetic", "color": "black"},
   "encoding": {
    "x": {"field": "t", "type": "quantitative", "scale": {"domain": [1980, 2015], "nice": false, "zero": false}, "axis": null},
    "y": {"field": "v", "type": "quantitative", "scale": {"domain": [3.0, 4.22], "range": [490, 260], "nice": false, "zero": false}, "axis": null},
    "text": {"field": "s"}
   }},
  {"data": {"values": [{"t": 2022.48, "v": 3.532, "s": "ar SW"}]}, "mark": {"type": "text", "fontSize": 18, "angle": 270, "align": "left", "baseline": "alphabetic", "color": "black"},
   "encoding": {
    "x": {"field": "t", "type": "quantitative", "scale": {"domain": [1980, 2015], "nice": false, "zero": false}, "axis": null},
    "y": {"field": "v", "type": "quantitative", "scale": {"domain": [3.0, 4.22], "range": [490, 260], "nice": false, "zero": false}, "axis": null},
    "text": {"field": "s"}
   }},
  {"data": {"name": "sea"}, "mark": {"type": "line", "color": "#e63b1f", "strokeWidth": 3.6, "strokeJoin": "round"},
   "encoding": {
    "x": {"field": "t", "type": "quantitative", "scale": {"domain": [1980, 2015], "nice": false, "zero": false}, "axis": null},
    "y": {"field": "pc", "type": "quantitative", "scale": {"domain": [250, 430], "range": [756, 454], "nice": false, "zero": false},
      "axis": {"orient": "left", "values": [250, 300, 350, 400], "tickSize": 9, "labelPadding": 5, "title": null}}
   }},
  {"data": {"name": "atm"}, "mark": {"type": "line", "color": "black", "strokeWidth": 4.5, "interpolate": "monotone"},
   "encoding": {
    "x": {"field": "t", "type": "quantitative", "scale": {"domain": [1980, 2015], "nice": false, "zero": false}, "axis": null},
    "y": {"field": "v", "type": "quantitative", "scale": {"domain": [250, 430], "range": [756, 454], "nice": false, "zero": false}, "axis": null}
   }},
  {"data": {"name": "pcc"}, "mark": {"type": "point", "shape": "diamond", "filled": false, "stroke": "black", "strokeWidth": 2.4, "size": 110, "opacity": 1},
   "encoding": {
    "x": {"field": "t", "type": "quantitative", "scale": {"domain": [1980, 2015], "nice": false, "zero": false},
      "axis": {"orient": "bottom", "format": "d", "values": [1980, 1990, 2000, 2010], "tickSize": 7, "labelPadding": 6, "title": "Year A.D.", "titlePadding": 4, "titleX": 221}},
    "y": {"field": "v", "type": "quantitative", "scale": {"domain": [250, 430], "range": [756, 454], "nice": false, "zero": false}, "axis": null}
   }},
  {"data": {"values": [{"t": 1994.0, "v": 326}]}, "mark": {"type": "point", "shape": "diamond", "filled": true, "color": "#2f8c45", "size": 300, "opacity": 1},
   "encoding": {
    "x": {"field": "t", "type": "quantitative", "scale": {"domain": [1980, 2015], "nice": false, "zero": false}, "axis": null},
    "y": {"field": "v", "type": "quantitative", "scale": {"domain": [250, 430], "range": [756, 454], "nice": false, "zero": false}, "axis": null}
   }},
  {"data": {"values": [{"t": 1980.92, "v": 412.55, "s": "c"}]}, "mark": {"type": "text", "fontWeight": "bold", "fontSize": 29, "align": "left", "baseline": "alphabetic", "color": "black"},
   "encoding": {
    "x": {"field": "t", "type": "quantitative", "scale": {"domain": [1980, 2015], "nice": false, "zero": false}, "axis": null},
    "y": {"field": "v", "type": "quantitative", "scale": {"domain": [250, 430], "range": [756, 454], "nice": false, "zero": false}, "axis": null},
    "text": {"field": "s"}
   }},
  {"data": {"values": [{"t": 1981.25, "v": 322.3, "s": "atm"}]}, "mark": {"type": "text", "fontSize": 21, "align": "left", "baseline": "alphabetic", "color": "black"},
   "encoding": {
    "x": {"field": "t", "type": "quantitative", "scale": {"domain": [1980, 2015], "nice": false, "zero": false}, "axis": null},
    "y": {"field": "v", "type": "quantitative", "scale": {"domain": [250, 430], "range": [756, 454], "nice": false, "zero": false}, "axis": null},
    "text": {"field": "s"}
   }},
  {"data": {"values": [{"t": 1973.94, "v": 285.26, "s": "p"}]}, "mark": {"type": "text", "fontSize": 32, "fontStyle": "italic", "angle": 270, "align": "left", "baseline": "alphabetic", "color": "black"},
   "encoding": {
    "x": {"field": "t", "type": "quantitative", "scale": {"domain": [1980, 2015], "nice": false, "zero": false}, "axis": null},
    "y": {"field": "v", "type": "quantitative", "scale": {"domain": [250, 430], "range": [756, 454], "nice": false, "zero": false}, "axis": null},
    "text": {"field": "s"}
   }},
  {"data": {"values": [{"t": 1973.94, "v": 295.9, "s": "CO"}, {"t": 1973.94, "v": 336.5, "s": "(µatm)"}]}, "mark": {"type": "text", "fontSize": 32, "angle": 270, "align": "left", "baseline": "alphabetic", "color": "black"},
   "encoding": {
    "x": {"field": "t", "type": "quantitative", "scale": {"domain": [1980, 2015], "nice": false, "zero": false}, "axis": null},
    "y": {"field": "v", "type": "quantitative", "scale": {"domain": [250, 430], "range": [756, 454], "nice": false, "zero": false}, "axis": null},
    "text": {"field": "s"}
   }},
  {"data": {"values": [{"t": 1974.4, "v": 324.6, "s": "2"}]}, "mark": {"type": "text", "fontSize": 20, "angle": 270, "align": "left", "baseline": "alphabetic", "color": "black"},
   "encoding": {
    "x": {"field": "t", "type": "quantitative", "scale": {"domain": [1980, 2015], "nice": false, "zero": false}, "axis": null},
    "y": {"field": "v", "type": "quantitative", "scale": {"domain": [250, 430], "range": [756, 454], "nice": false, "zero": false}, "axis": null},
    "text": {"field": "s"}
   }}
 ]
},
{
 "width": 453, "height": 302,
 "resolve": {"scale": {"y": "independent"}, "axis": {"x": "independent", "y": "independent"}},
 "layer": [
  {"data": {"name": "hist"}, "mark": {"type": "point", "shape": "square", "filled": true, "color": "#e63b1f", "size": 26, "opacity": 1},
   "encoding": {
    "x": {"field": "t", "type": "quantitative", "scale": {"domain": [1700, 2013.5], "nice": false, "zero": false},
      "axis": {"orient": "bottom", "format": "d", "values": [1700, 1800, 1900, 2000], "tickSize": 8, "labelPadding": 7, "title": "Year A.D.", "titlePadding": 4, "titleX": 221.6}},
    "y": {"field": "p", "type": "quantitative", "scale": {"domain": [8.0796, 8.2299], "nice": false, "zero": false},
      "axis": {"orient": "left", "values": [8.1, 8.15, 8.2], "format": ".2f", "tickSize": 9, "labelPadding": 5, "title": null}}
   }},
  {"data": {"name": "hist"}, "mark": {"type": "point", "shape": "circle", "filled": true, "color": "black", "size": 30, "opacity": 1},
   "encoding": {
    "x": {"field": "t", "type": "quantitative", "scale": {"domain": [1700, 2013.5], "nice": false, "zero": false},
      "axis": {"orient": "top", "format": "d", "values": [1700,1720,1740,1760,1780,1800,1820,1840,1860,1880,1900,1920,1940,1960,1980,2000], "labels": false,
        "tickSize": {"condition": {"test": "datum.value % 100 === 0", "value": 9}, "value": 5}, "title": null}},
    "y": {"field": "a", "type": "quantitative", "scale": {"domain": [250, 410.07], "nice": false, "zero": false},
      "axis": {"orient": "right", "values": [250, 300, 350, 400], "tickSize": 8, "labelPadding": 3, "title": null}}
   }},
  {"data": {"name": "hist"}, "mark": {"type": "point", "shape": "circle", "filled": true, "color": "#2d3db3", "size": 30, "opacity": 1},
   "encoding": {
    "x": {"field": "t", "type": "quantitative", "scale": {"domain": [1700, 2013.5], "nice": false, "zero": false}, "axis": null},
    "y": {"field": "w", "type": "quantitative", "scale": {"domain": [250, 410.07], "nice": false, "zero": false}, "axis": null}
   }},
  {"data": {"values": [{"t": 1750.0, "v": 8.2017}, {"t": 1994.0, "v": 8.1244}]}, "mark": {"type": "point", "shape": "diamond", "filled": true, "color": "#2f8c45", "size": 230, "opacity": 1},
   "encoding": {
    "x": {"field": "t", "type": "quantitative", "scale": {"domain": [1700, 2013.5], "nice": false, "zero": false}, "axis": null},
    "y": {"field": "v", "type": "quantitative", "scale": {"domain": [8.0796, 8.2299], "nice": false, "zero": false}, "axis": null}
   }},
  {"data": {"values": [{"t": 1708.85, "v": 8.2114, "s": "d"}]}, "mark": {"type": "text", "fontWeight": "bold", "fontSize": 29, "align": "left", "baseline": "alphabetic", "color": "black"},
   "encoding": {
    "x": {"field": "t", "type": "quantitative", "scale": {"domain": [1700, 2013.5], "nice": false, "zero": false}, "axis": null},
    "y": {"field": "v", "type": "quantitative", "scale": {"domain": [8.0796, 8.2299], "nice": false, "zero": false}, "axis": null},
    "text": {"field": "s"}
   }},
  {"data": {"values": [{"t": 1646.43, "v": 8.1353, "s": "pH"}]}, "mark": {"type": "text", "fontSize": 30, "angle": 270, "align": "left", "baseline": "alphabetic", "color": "black"},
   "encoding": {
    "x": {"field": "t", "type": "quantitative", "scale": {"domain": [1700, 2013.5], "nice": false, "zero": false}, "axis": null},
    "y": {"field": "v", "type": "quantitative", "scale": {"domain": [8.0796, 8.2299], "nice": false, "zero": false}, "axis": null},
    "text": {"field": "s"}
   }},
  {"data": {"values": [{"t": 1652.3, "v": 8.1544, "s": "SW"}]}, "mark": {"type": "text", "fontSize": 18, "angle": 270, "align": "left", "baseline": "alphabetic", "color": "black"},
   "encoding": {
    "x": {"field": "t", "type": "quantitative", "scale": {"domain": [1700, 2013.5], "nice": false, "zero": false}, "axis": null},
    "y": {"field": "v", "type": "quantitative", "scale": {"domain": [8.0796, 8.2299], "nice": false, "zero": false}, "axis": null},
    "text": {"field": "s"}
   }},
  {"data": {"values": [{"t": 1716.3, "v": 285.5, "s": "atm"}]}, "mark": {"type": "text", "fontSize": 21, "align": "left", "baseline": "alphabetic", "color": "black"},
   "encoding": {
    "x": {"field": "t", "type": "quantitative", "scale": {"domain": [1700, 2013.5], "nice": false, "zero": false}, "axis": null},
    "y": {"field": "v", "type": "quantitative", "scale": {"domain": [250, 410.07], "nice": false, "zero": false}, "axis": null},
    "text": {"field": "s"}
   }},
  {"data": {"values": [{"t": 1910.6, "v": 259.5, "s": "SW"}]}, "mark": {"type": "text", "fontSize": 16, "align": "left", "baseline": "alphabetic", "color": "#2d3db3"},
   "encoding": {
    "x": {"field": "t", "type": "quantitative", "scale": {"domain": [1700, 2013.5], "nice": false, "zero": false}, "axis": null},
    "y": {"field": "v", "type": "quantitative", "scale": {"domain": [250, 410.07], "nice": false, "zero": false}, "axis": null},
    "text": {"field": "s"}
   }},
  {"data": {"values": [{"t": 2081.6, "v": 279.68, "s": "p"}]}, "mark": {"type": "text", "fontSize": 32, "fontStyle": "italic", "angle": 270, "align": "left", "baseline": "alphabetic", "color": "black"},
   "encoding": {
    "x": {"field": "t", "type": "quantitative", "scale": {"domain": [1700, 2013.5], "nice": false, "zero": false}, "axis": null},
    "y": {"field": "v", "type": "quantitative", "scale": {"domain": [250, 410.07], "nice": false, "zero": false}, "axis": null},
    "text": {"field": "s"}
   }},
  {"data": {"values": [{"t": 2081.6, "v": 289.1, "s": "CO"}, {"t": 2081.6, "v": 325.26, "s": "(µatm)"}]}, "mark": {"type": "text", "fontSize": 32, "angle": 270, "align": "left", "baseline": "alphabetic", "color": "black"},
   "encoding": {
    "x": {"field": "t", "type": "quantitative", "scale": {"domain": [1700, 2013.5], "nice": false, "zero": false}, "axis": null},
    "y": {"field": "v", "type": "quantitative", "scale": {"domain": [250, 410.07], "nice": false, "zero": false}, "axis": null},
    "text": {"field": "s"}
   }},
  {"data": {"values": [{"t": 2085.7, "v": 314.6, "s": "2"}]}, "mark": {"type": "text", "fontSize": 20, "angle": 270, "align": "left", "baseline": "alphabetic", "color": "black"},
   "encoding": {
    "x": {"field": "t", "type": "quantitative", "scale": {"domain": [1700, 2013.5], "nice": false, "zero": false}, "axis": null},
    "y": {"field": "v", "type": "quantitative", "scale": {"domain": [250, 410.07], "nice": false, "zero": false}, "axis": null},
    "text": {"field": "s"}
   }}
 ]
}
]
}
